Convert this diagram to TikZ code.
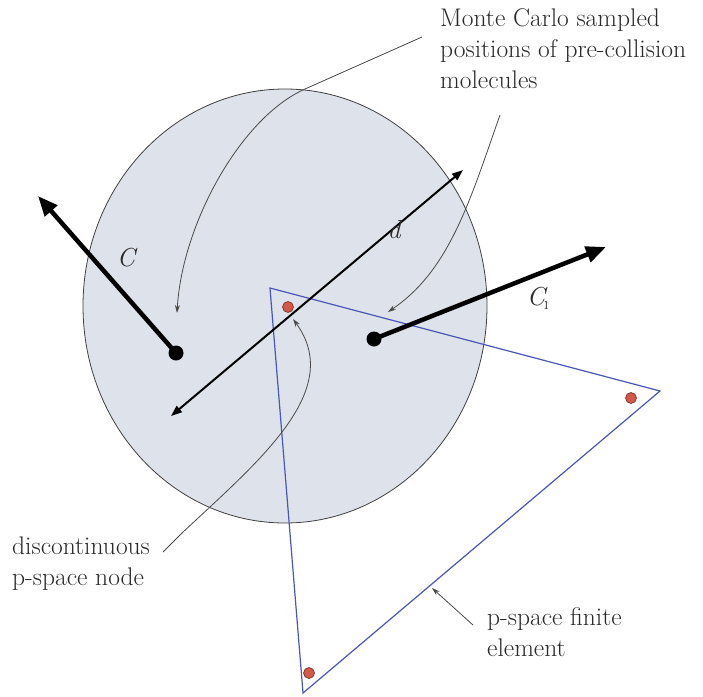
\documentclass[tikz,border=0pt]{standalone}
\usetikzlibrary{arrows.meta}
\definecolor{discfill}{HTML}{DEE2EA}
\definecolor{discline}{HTML}{404040}
\definecolor{annc}{HTML}{4A4A4A}
\definecolor{redn}{HTML}{D2584A}
\definecolor{redd}{HTML}{7A2A22}
\definecolor{triblue}{HTML}{4A56B8}
\definecolor{txt}{HTML}{2A2A2A}
\begin{document}
\begin{tikzpicture}[x=1pt,y=-1pt,
 lbl/.style={font=\fontsize{25.5}{31}\selectfont, text=txt, inner sep=0pt, align=left, anchor=north west},
 vlbl/.style={font=\fontsize{26}{30}\selectfont\itshape, text=txt, inner sep=0pt},
 ann/.style={draw=annc, line width=0.8pt, -{Stealth[length=8pt,width=5pt]}},
 mol/.style={circle, fill=black, inner sep=0pt, minimum size=15pt},
 pnode/.style={circle, fill=redn, draw=redd, line width=0.6pt, inner sep=0pt, minimum size=11pt},
 vel/.style={line width=4.5pt, -{Triangle[length=20pt,width=16pt]}},
 diam/.style={line width=2pt, {Triangle[length=11pt,width=8pt]}-{Triangle[length=11pt,width=8pt]}},
 tri/.style={draw=triblue, line width=1.2pt, line join=miter}
 ]
\useasboundingbox (0,0) rectangle (703,696);
\fill[white] (0,0) rectangle (703,696);
% disc
\draw[fill=discfill, draw=discline, line width=0.8pt] (285,306) ellipse [x radius=202, y radius=217];
% triangle element
\coordinate (t1) at (270,288);
\coordinate (t2) at (660,391);
\coordinate (t3) at (303,693);
\draw[tri] (t1) -- (t2) -- (t3) -- cycle;
% diameter
\coordinate (da) at (171,416);
\coordinate (db) at (463,170);
\draw[diam] (da) -- (db);
% molecules
\node[mol] (m1) at (176,353) {};
\node[mol] (m2) at (374,339) {};
\coordinate (v1) at (38,196);
\coordinate (v2) at (606,247);
\draw[vel] (m1.center) -- (v1);
\draw[vel] (m2.center) -- (v2);
% p-space nodes
\node[pnode] (p0) at (288,307) {};
\node[pnode] (p1) at (631,398) {};
\node[pnode] (p2) at (309,673) {};
% labels
\node[vlbl] (lc) at (126,258) {C};
\node[vlbl] (ld) at (394,230) {d};
\node[vlbl] (lc1) at (538,298) {C\textsubscript{\kern-1pt\textup{\i}}};
\node[lbl] (mc) at (440,8) {Monte Carlo sampled\\positions of pre-collision\\molecules};
\node[lbl] (dn) at (12,537) {discontinuous\\p-space node};
\node[lbl] (fe) at (487,607) {p-space finite\\element};
% annotation pointers
\coordinate (a1s) at (422,37);
\coordinate (a1k) at (305,89);
\coordinate (a1e) at (177,313);
\draw[ann] (a1s) -- (a1k) .. controls (240,118) and (182,225) .. (a1e);
\coordinate (a2s) at (500,115);
\coordinate (a2e) at (388,312);
\draw[ann] (a2s) .. controls (470,200) and (450,270) .. (a2e);
\coordinate (a3s) at (163,552);
\coordinate (a3k) at (182,533);
\coordinate (a3e) at (293,319);
\draw[ann] (a3s) -- (a3k) .. controls (260,460) and (345,390) .. (a3e);
\coordinate (a4s) at (473,625);
\coordinate (a4e) at (432,588);
\draw[ann] (a4s) -- (a4e);
\end{tikzpicture}
\end{document}
